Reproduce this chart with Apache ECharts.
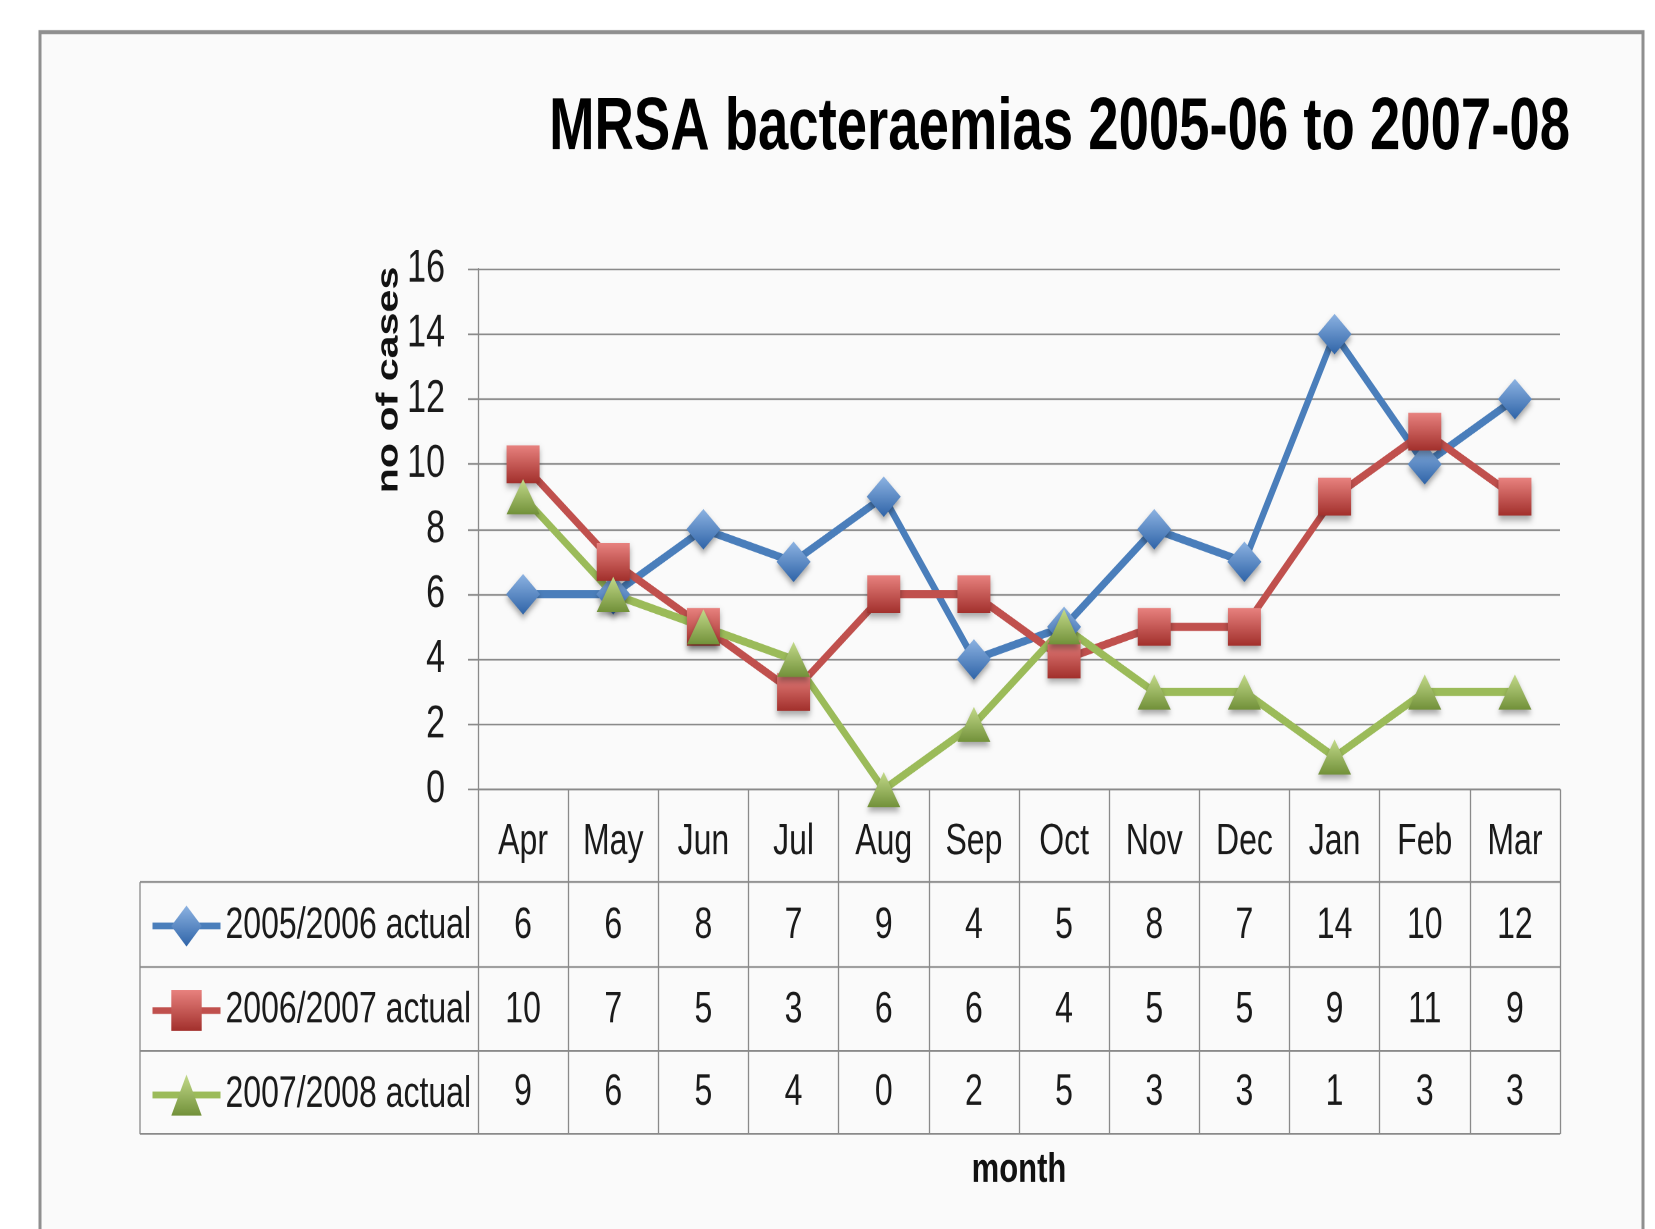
<!DOCTYPE html>
<html>
<head>
<meta charset="utf-8">
<script src="https://cdn.jsdelivr.net/npm/echarts@6/dist/echarts.min.js"></script>
<style>
html,body{margin:0;padding:0;background:#ffffff;overflow:hidden;}
#wrap{width:1655px;height:1229px;overflow:hidden;}
#chart{width:1655px;height:910px;transform-origin:0 0;}
</style>
</head>
<body>
<div id="wrap"><div id="chart"></div></div>
<script>
// ---- data ----
const months = ['Apr','May','Jun','Jul','Aug','Sep','Oct','Nov','Dec','Jan','Feb','Mar'];
const seriesNames = ['2005/2006 actual','2006/2007 actual','2007/2008 actual'];
const cases0506 = [6,6,8,7,9,4,5,8,7,14,10,12];
const cases0607 = [10,7,5,3,6,6,4,5,5,9,11,9];
const cases0708 = [9,6,5,4,0,2,5,3,3,1,3,3];
const yMin = 0, yMax = 16, yStep = 2;
const titleText = 'MRSA bacteraemias 2005-06 to 2007-08';
const yName = 'no of cases';
const xName = 'month';

// ---- layout / style ----
// The original picture is stretched vertically; the chart is drawn in a
// shorter box and stretched with a CSS scaleY so text gets the same tall look.
const H_FULL = 1229, H_IN = 910;
const S = H_FULL / H_IN;
document.getElementById('chart').style.transform = 'scaleY(' + S + ')';
const Y = v => v / S;                       // full-page y -> internal y

const F = "'Liberation Sans',Arial,sans-serif";
const GRID_L = 478, GRID_R = 1560, GRID_T = Y(269), GRID_B = Y(789.5);
const ROW_LINES = [882, 967, 1051, 1134].map(Y);
const TABLE_L = 140;
const GRAY = '#8a8a8a';
const TXT = '#1a1a1a';
const colors = ['#4A7EBB', '#C0504D', '#9BBB59'];
const grads = [
  ['#8DB3E2', '#2F64A8'],
  ['#E8827F', '#A2302C'],
  ['#C3DA8A', '#72913A']
];
const symbols = ['diamond', 'rect', 'triangle'];
const symSizes = [[34, 30], [33, 28], [33, 26]];
const allVals = [cases0506, cases0607, cases0708];

const chart = echarts.init(document.getElementById('chart'), null, {renderer: 'canvas', devicePixelRatio: 2});

function grad(c) {
  return {type: 'linear', x: 0, y: 0, x2: 0, y2: 1,
    colorStops: [{offset: 0, color: c[0]}, {offset: 1, color: c[1]}]};
}

const rowCenters = [842, 926, 1010.5, 1093].map(Y);
const xAxes = [{
  type: 'category', data: months, gridIndex: 0, position: 'bottom',
  axisLine: {show: true, lineStyle: {color: GRAY, width: 1.3}},
  axisTick: {show: true, interval: 0, length: ROW_LINES[3] - GRID_B, lineStyle: {color: GRAY, width: 1.3}},
  axisLabel: {interval: 0, margin: rowCenters[0] - GRID_B, verticalAlign: 'middle', fontFamily: F, fontSize: 32, color: TXT},
  splitLine: {show: false},
  name: xName, nameLocation: 'middle', nameGap: Y(1170) - GRID_B,
  nameTextStyle: {fontFamily: F, fontWeight: 'bold', fontSize: 31, color: '#111', verticalAlign: 'middle'}
}];
allVals.forEach((arr, i) => {
  xAxes.push({
    type: 'category', data: months, gridIndex: 0, position: 'bottom',
    axisLine: {show: false}, axisTick: {show: false}, splitLine: {show: false},
    axisLabel: {interval: 0, margin: rowCenters[i + 1] - GRID_B, verticalAlign: 'middle', fontFamily: F, fontSize: 32, color: TXT,
      formatter: (v, idx) => String(arr[idx])}
  });
});

const legendRow = Y(1009) - Y(924.5);
const legendItemH = 38;
const option = {
  backgroundColor: '#ffffff',
  animation: false,
  title: {
    text: titleText, right: 1655 - 1575, top: Y(85),
    textStyle: {fontFamily: F, fontWeight: 'bold', fontSize: 54.5, color: '#000'}
  },
  legend: {
    data: seriesNames, orient: 'vertical', left: 150, top: Y(926) - legendItemH / 2, padding: 0,
    itemWidth: 68, itemHeight: legendItemH, itemGap: legendRow - legendItemH,
    lineStyle: {width: 5},
    textStyle: {fontFamily: F, fontSize: 32, lineHeight: legendItemH, color: TXT}
  },
  grid: {left: GRID_L, right: 1655 - GRID_R, top: GRID_T, bottom: H_IN - GRID_B, containLabel: false},
  xAxis: xAxes,
  yAxis: {
    type: 'value', min: yMin, max: yMax, interval: yStep,
    axisLine: {show: true, lineStyle: {color: GRAY, width: 1.3}},
    axisTick: {show: true, length: 10, lineStyle: {color: GRAY, width: 1.3}},
    axisLabel: {margin: 33, fontFamily: F, fontSize: 34, color: TXT},
    splitLine: {show: true, lineStyle: {color: GRAY, width: 1.3}}
  },
  graphic: [
    {type: 'rect', z: -10, silent: true,
      shape: {x: 40, y: Y(32), width: 1603, height: H_IN},
      style: {fill: '#fafafa', stroke: '#8f8f8f', lineWidth: 3}},
    {type: 'text', silent: true, x: 389, y: Y(380), rotation: Math.PI / 2,
      style: {text: yName, fontFamily: F, fontWeight: 'bold', fontSize: 30.5, fill: '#111',
        textAlign: 'center', textVerticalAlign: 'middle'}}
  ].concat(ROW_LINES.map(y => ({type: 'line', silent: true,
      shape: {x1: TABLE_L, y1: y, x2: GRID_R, y2: y}, style: {stroke: GRAY, lineWidth: 1.3}})))
   .concat([{type: 'line', silent: true, shape: {x1: TABLE_L, y1: ROW_LINES[0], x2: TABLE_L, y2: ROW_LINES[3]},
      style: {stroke: GRAY, lineWidth: 1.3}}]),
  series: allVals.map((arr, i) => ({
    name: seriesNames[i], type: 'line', data: arr, xAxisIndex: 0, yAxisIndex: 0,
    symbol: symbols[i], symbolSize: symSizes[i],
    lineStyle: {color: colors[i], width: 6},
    itemStyle: {color: grad(grads[i]), borderWidth: 0,
      shadowBlur: 5, shadowColor: 'rgba(0,0,0,0.35)', shadowOffsetY: 3},
    emphasis: {disabled: true}
  }))
};
chart.setOption(option);
</script>
</body>
</html>
